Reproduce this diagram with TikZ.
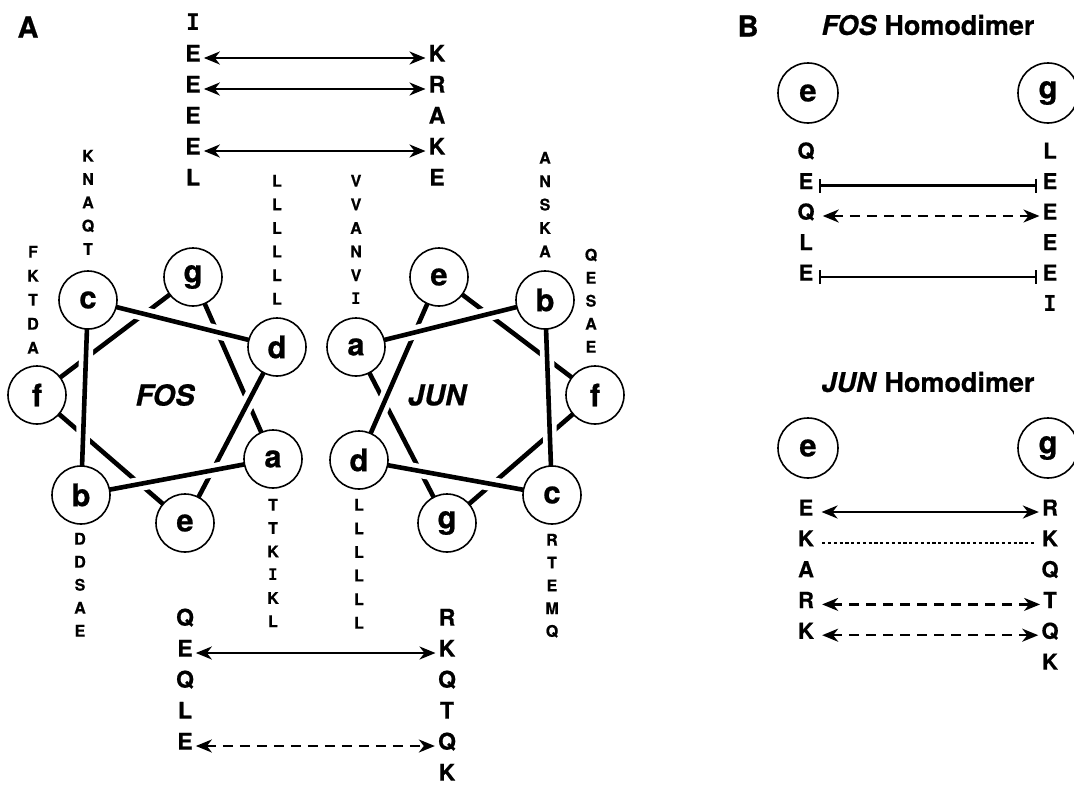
\documentclass[tikz,border=0pt]{standalone}
\usepackage{fontspec}
\setmainfont{TeX Gyre Heros}[BoldFeatures={FakeBold=0.6},BoldItalicFeatures={FakeBold=0.6}]
\newfontfamily\monoI{DejaVu Sans Mono}
\usetikzlibrary{arrows.meta}
\tikzset{
  hc/.style={circle,draw,line width=1.6pt,fill=white,minimum size=58pt,inner sep=0pt,font=\bfseries\fontsize{31}{31}\selectfont},
  bc/.style={circle,draw,line width=1.6pt,fill=white,minimum size=60pt,inner sep=0pt,font=\bfseries\fontsize{31}{31}\selectfont},
  sm/.style={inner sep=0pt,text height=0.72em,text depth=0pt,font=\bfseries\fontsize{16}{16}\selectfont},
  big/.style={inner sep=0pt,text height=0.72em,text depth=0pt,font=\bfseries\fontsize{23}{23}\selectfont},
  bl/.style={inner sep=0pt,text height=0.72em,text depth=0pt,font=\bfseries\fontsize{22}{22}\selectfont},
  hl/.style={line width=4.6pt,preaction={draw=white,line width=14pt}},
  arr/.style={line width=2.4pt,{Stealth[length=16pt,width=13pt,inset=5pt]}-{Stealth[length=16pt,width=13pt,inset=5pt]},shorten <=3pt,shorten >=3pt},
  dashpat/.style={dash pattern=on 10pt off 7pt},
  barl/.style={line width=2.2pt,{Bar[width=14pt,line width=2.2pt]}-{Bar[width=14pt,line width=2.2pt]},shorten <=5pt,shorten >=5pt},
  dotl/.style={line width=2pt,dash pattern=on 3.2pt off 2.6pt,shorten <=8pt,shorten >=8pt},
  title/.style={inner sep=0pt,font=\bfseries\fontsize{27}{27}\selectfont},
}
\begin{document}
\begin{tikzpicture}[x=1pt,y=-1pt]
\useasboundingbox (0,0) rectangle (1074,787);
% ---------- FOS helix ----------
\coordinate (Fa) at (273,459); \coordinate (Fb) at (81,495); \coordinate (Fc) at (88,300);
\coordinate (Fd) at (277,347); \coordinate (Fe) at (185,523); \coordinate (Ff) at (37,395);
\coordinate (Fg) at (193,277);
\draw[hl] (Fg) -- (Fa);
\draw[hl] (Ff) -- (Fg);
\draw[hl] (Fe) -- (Ff);
\draw[hl] (Fd) -- (Fe);
\draw[hl] (Fc) -- (Fd);
\draw[hl] (Fb) -- (Fc);
\draw[hl] (Fa) -- (Fb);
\foreach \n in {a,b,c,d,e,f,g} \node[hc] (Fn\n) at (F\n) {\n};
\node[inner sep=0pt,font=\bfseries\itshape\fontsize{29}{29}\selectfont] (fosl) at (165,395) {FOS};
% ---------- JUN helix ----------
\coordinate (Ja) at (356,347); \coordinate (Jb) at (545,300); \coordinate (Jc) at (552,495);
\coordinate (Jd) at (359,460); \coordinate (Je) at (439,277); \coordinate (Jf) at (595,395);
\coordinate (Jg) at (447,523);
\draw[hl] (Jg) -- (Ja);
\draw[hl] (Jf) -- (Jg);
\draw[hl] (Je) -- (Jf);
\draw[hl] (Jd) -- (Je);
\draw[hl] (Jc) -- (Jd);
\draw[hl] (Jb) -- (Jc);
\draw[hl] (Ja) -- (Jb);
\foreach \n in {a,b,c,d,e,f,g} \node[hc] (Jn\n) at (J\n) {\n};
\node[inner sep=0pt,font=\bfseries\itshape\fontsize{29}{29}\selectfont] (junl) at (437,395) {JUN};
% ---------- small letter columns ----------
\foreach \l [count=\i] in {K,N,A,Q,T} \node[sm] (fcc\i) at (88,158+23.3*\i-23.3) {\l};
\foreach \l [count=\i] in {F,K,T,D,A} \node[sm] (fcf\i) at (33,254+24*\i-24) {\l};
\foreach \l [count=\i] in {L,L,L,L,L,L} \node[sm] (fcd\i) at (277,183+23.6*\i-23.6) {\l};
\foreach \l [count=\i] in {V,V,A,N,V,{\monoI\bfseries I}} \node[sm] (jca\i) at (356,183+23.6*\i-23.6) {\l};
\foreach \l [count=\i] in {A,N,S,K,A} \node[sm] (jcb\i) at (545,160+23.4*\i-23.4) {\l};
\foreach \l [count=\i] in {Q,E,S,A,E} \node[sm] (jcf\i) at (591,257+23*\i-23) {\l};
\foreach \l [count=\i] in {D,D,S,A,E} \node[sm] (fcb\i) at (80,541+23*\i-23) {\l};
\foreach \l [count=\i] in {T,T,K,{\monoI\bfseries I},K,L} \node[sm] (fca\i) at (273,507+23.3*\i-23.3) {\l};
\foreach \l [count=\i] in {L,L,L,L,L,L} \node[sm] (jcd\i) at (359,507+23.6*\i-23.6) {\l};
\foreach \l [count=\i] in {R,T,E,M,Q} \node[sm] (jcc\i) at (552,542+22.8*\i-22.8) {\l};
% ---------- top big columns ----------
\foreach \l [count=\i] in {{\monoI\bfseries I},E,E,E,E,L} \node[big] (tl\i) at (193,27+31*\i-31) {\l};
\foreach \l [count=\i] in {K,R,A,K,E} \node[big] (tr\i) at (437,58+31*\i-31) {\l};
\draw[arr] (tl2) -- (tr1);
\draw[arr] (tl3) -- (tr2);
\draw[arr] (tl5) -- (tr4);
% ---------- bottom big columns ----------
\foreach \l [count=\i] in {Q,E,Q,L,E} \node[big] (bl\i) at (185,622+31*\i-31) {\l};
\foreach \l [count=\i] in {R,K,Q,T,Q,K} \node[big] (br\i) at (447,622+31*\i-31) {\l};
\draw[arr] (bl2) -- (br2);
\draw[arr,dashpat] (bl5) -- (br5);
% ---------- panel labels ----------
\node[inner sep=0pt,font=\bfseries\fontsize{29}{29}\selectfont] (labA) at (28,27) {A};
\node[inner sep=0pt,font=\bfseries\fontsize{29}{29}\selectfont] (labB) at (748,26) {B};
% ---------- panel B: FOS homodimer ----------
\node[title] (fost) at (928,25) {\textit{FOS} Homodimer};
\node[bc] (bfe) at (808,93) {e};
\node[bc] (bfg) at (1048,93) {g};
\foreach \l [count=\i] in {Q,E,Q,L,E} \node[bl] (fhl\i) at (806,155+30.5*\i-30.5) {\l};
\foreach \l [count=\i] in {L,E,E,E,E,{\monoI\bfseries I}} \node[bl] (fhr\i) at (1050,155+30.5*\i-30.5) {\l};
\draw[barl] (fhl2) -- (fhr2);
\draw[arr,dashpat,shorten <=8pt] (fhl3) -- (fhr3);
\draw[barl] (fhl5) -- (fhr5);
% ---------- panel B: JUN homodimer ----------
\node[title] (junt) at (928,382) {\textit{JUN} Homodimer};
\node[bc] (bje) at (808,448) {e};
\node[bc] (bjg) at (1048,448) {g};
\foreach \l [count=\i] in {E,K,A,R,K} \node[bl] (jhl\i) at (806,512+30.8*\i-30.8) {\l};
\foreach \l [count=\i] in {R,K,Q,T,Q,K} \node[bl] (jhr\i) at (1050,512+30.8*\i-30.8) {\l};
\draw[arr,shorten <=8pt] (jhl1) -- (jhr1);
\draw[dotl] (jhl2) -- (jhr2);
\draw[arr,dashpat,shorten <=8pt] (jhl4) -- (jhr4);
\draw[arr,dashpat,shorten <=8pt] (jhl5) -- (jhr5);
\end{tikzpicture}
\end{document}
